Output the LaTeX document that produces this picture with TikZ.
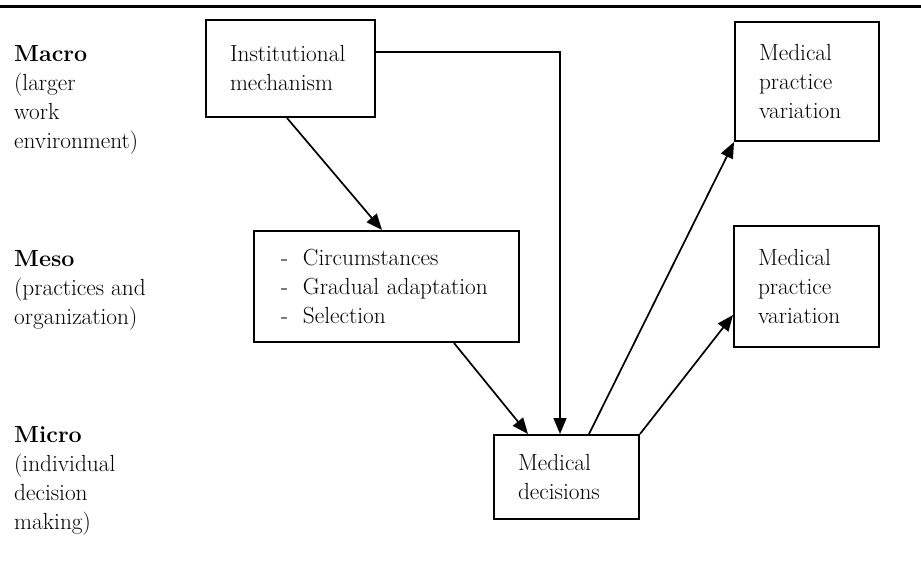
\documentclass[tikz,border=0pt]{standalone}
\usepackage{fontspec}
\usetikzlibrary{arrows.meta,calc}
\begin{document}
\begin{tikzpicture}[x=1pt,y=-1pt,
  every node/.style={font=\fontsize{23.3}{29}\selectfont},
  box/.style={draw, line width=2pt, anchor=north west, align=left,
    inner xsep=24pt, inner ysep=0pt},
  lvl/.style={anchor=north west, align=left, inner sep=0pt},
  arr/.style={line width=1.7pt, -{Triangle[length=16pt,width=13pt]}}]
\useasboundingbox (0,0) rectangle (921,563);
\draw[line width=3pt] (0,6) -- (921,6);
% level labels
\node[lvl] (macro) at (14,45) {\textbf{Macro}\\(larger\\work\\environment)};
\node[lvl] (meso) at (14,250) {\textbf{Meso}\\(practices and\\organization)};
\node[lvl] (micro) at (14,426) {\textbf{Micro}\\(individual\\decision\\making)};
% boxes
\node[box, text width=121pt, minimum width=169pt, minimum height=97pt] (inst) at (205,19) {Institutional\\mechanism};
\node[box, text width=96pt, minimum width=144pt, minimum height=119pt] (mpvA) at (734,21) {Medical\\practice\\variation};
\node[box, text width=97pt, minimum width=145pt, minimum height=121pt] (mpvB) at (733,225) {Medical\\practice\\variation};
\node[box, inner xsep=27pt, text width=211pt, minimum width=265pt, minimum height=111pt] (mesobox) at (253,230)
  {\makebox[22pt][l]{-}Circumstances\\\makebox[22pt][l]{-}Gradual adaptation\\\makebox[22pt][l]{-}Selection};
\node[box, text width=97pt, minimum width=145pt, minimum height=84pt] (md) at (493,434) {Medical\\decisions};
% connectors
\draw[arr] ([xshift=82pt]inst.south west) -- ([xshift=129pt]mesobox.north west);
\draw[arr] ([yshift=-33pt]inst.north east) -| ([xshift=67pt]md.north west);
\draw[arr] ([xshift=201pt]mesobox.south west) -- ([xshift=35pt]md.north west);
\draw[arr] ([xshift=96pt]md.north west) -- (mpvA.south west);
\draw[arr] (md.north east) -- ([yshift=-90pt]mpvB.north west);
\end{tikzpicture}
\end{document}
